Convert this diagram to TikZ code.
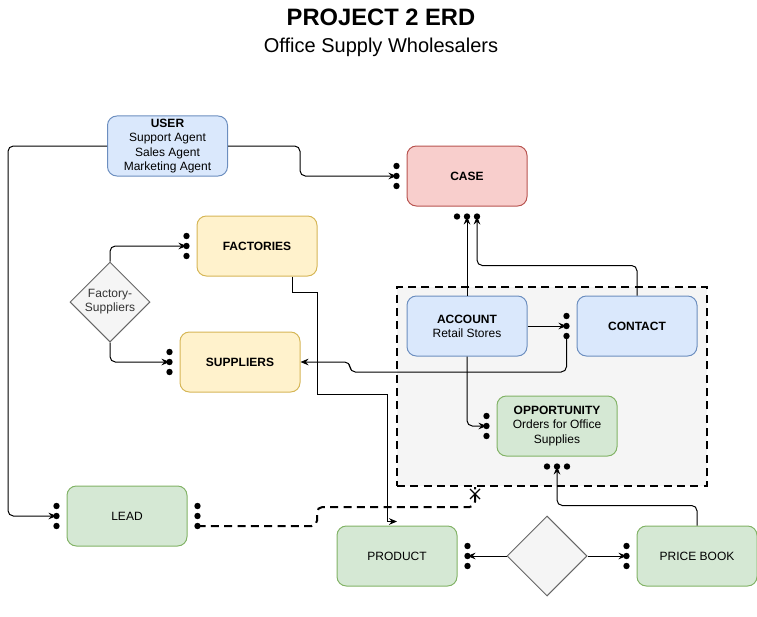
\documentclass[tikz,border=0pt]{standalone}
\usepackage{fontspec}
\setmainfont{Liberation Sans}
\usetikzlibrary{arrows.meta,shapes.geometric,calc}

\tikzset{
  entity/.style={draw, rounded corners=7pt, line width=0.75pt, minimum width=90pt, minimum height=45pt, align=center, inner sep=1pt, font=\fontsize{9}{10.6}\selectfont},
  blueent/.style={entity, fill={rgb,255:red,218;green,232;blue,252}, draw={rgb,255:red,108;green,142;blue,191}},
  redent/.style={entity, fill={rgb,255:red,248;green,206;blue,204}, draw={rgb,255:red,184;green,84;blue,80}},
  yellowent/.style={entity, fill={rgb,255:red,255;green,242;blue,204}, draw={rgb,255:red,214;green,182;blue,86}},
  greenent/.style={entity, fill={rgb,255:red,213;green,232;blue,212}, draw={rgb,255:red,130;green,179;blue,102}},
  relship/.style={diamond, draw={rgb,255:red,102;green,102;blue,102}, fill={rgb,255:red,245;green,245;blue,245}, line width=0.75pt, minimum width=60pt, minimum height=60pt, inner sep=0pt, align=center, text={rgb,255:red,51;green,51;blue,51}, font=\fontsize{9}{10.6}\selectfont},
  link/.style={line width=0.75pt, rounded corners=4pt, -{Stealth[length=6pt,width=5pt,inset=2pt]}},
  thickdash/.style={line width=1.5pt, dash pattern=on 6pt off 4pt},
}

% many-side marks: a column or a row of three dots
\newcommand{\dotcol}[1]{\fill ($(#1)+(0,-10)$) circle[radius=2.4pt] (#1) circle[radius=2.4pt] ($(#1)+(0,10)$) circle[radius=2.4pt];}
\newcommand{\dotrow}[1]{\fill ($(#1)+(-10,0)$) circle[radius=2.4pt] (#1) circle[radius=2.4pt] ($(#1)+(10,0)$) circle[radius=2.4pt];}

\begin{document}
\begin{tikzpicture}[x=0.75pt,y=0.75pt,yscale=-1,xscale=1]
\useasboundingbox (0,0) rectangle (757,617);

%Title
\node[font=\bfseries\fontsize{17.8}{20}\selectfont] (title) at (381,17) {PROJECT 2 ERD};
\node[font=\fontsize{15}{18}\selectfont] (subtitle) at (381,47) {Office Supply Wholesalers};

%Shape: Group (dashed)
\node[thickdash, draw, fill={rgb,255:red,245;green,245;blue,245}, minimum width=232.5pt, minimum height=149.25pt, inner sep=0pt] (grp) at (552,386.5) {};

%Shape: Entities
\node[blueent] (user) at (167.5,146) {\textbf{USER}\\Support Agent\\Sales Agent\\Marketing Agent};
\node[redent] (case) at (467,176) {\textbf{CASE}};
\node[yellowent] (fac) at (257,246) {\textbf{FACTORIES}};
\node[relship] (facsup) at (110,302) {Factory-\\Suppliers};
\node[yellowent] (sup) at (240,362) {\textbf{SUPPLIERS}};
\node[blueent] (acc) at (467,326) {\textbf{ACCOUNT}\\Retail Stores};
\node[blueent] (contact) at (637,326) {\textbf{CONTACT}};
\node[greenent] (opp) at (557,426) {\textbf{OPPORTUNITY}\\Orders for Office\\Supplies};
\node[greenent] (lead) at (127,516) {LEAD};
\node[greenent] (prod) at (397,556) {PRODUCT};
\node[relship] (prodpb) at (547,556) {};
\node[greenent] (pb) at (697,556) {PRICE BOOK};

%End points
\coordinate (caseL) at ($(case.west)+(-10,0)$);
\coordinate (caseB) at ($(case.south)+(0,10)$);
\coordinate (facL) at ($(fac.west)+(-10,0)$);
\coordinate (supL) at ($(sup.west)+(-10,0)$);
\coordinate (contactL) at ($(contact.west)+(-10,0)$);
\coordinate (oppL) at ($(opp.west)+(-10,0)$);
\coordinate (oppB) at ($(opp.south)+(0,10)$);
\coordinate (leadL) at ($(lead.west)+(-10,0)$);
\coordinate (leadR) at ($(lead.east)+(10,0)$);
\coordinate (prodR) at ($(prod.east)+(10,0)$);
\coordinate (pbL) at ($(pb.west)+(-10,0)$);

%Dots
\dotcol{caseL} \dotrow{caseB} \dotcol{facL} \dotcol{supL} \dotcol{contactL}
\dotcol{oppL} \dotrow{oppB} \dotcol{leadL} \dotcol{leadR} \dotcol{prodR} \dotcol{pbL}

%Connectors
\draw[link] (user.west) -- (8,146) |- (leadL);
\draw[link] (user.east) -- (300,146) |- (caseL);
\draw[link] (facsup.north) |- (facL);
\draw[link] (facsup.south) |- (supL);
\draw[link, sharp corners] ($(fac.south)+(35,0)$) |- (317,292) |- (387,394) |- ($(prod.north)+(0,-4)$);
\draw[link] ($(contactL)+(0,10)$) |- (350,372) |- (sup.east);
\draw[link] (acc.east) -- (contactL);
\draw[link] (acc.south) |- (oppL);
\draw[link] (acc.north) -- (caseB);
\draw[link] (contact.north) -- ++(0,-30) -| ($(caseB)+(10,0)$);
\draw[link] (pb.north) -- ++(0,-20) -| (oppB);
\draw[link] (prodpb.west) -- (prodR);
\draw[link] (prodpb.east) -- (pbL);

%Dashed link LEAD - group
\draw[thickdash, rounded corners=4pt] ($(leadR)+(0,10)$) -| (317,507) -| ($(grp.south)+(-77,0)$);
\draw[line width=1pt] (470,489) -- (480,499) (480,489) -- (470,499);

\end{tikzpicture}
\end{document}
